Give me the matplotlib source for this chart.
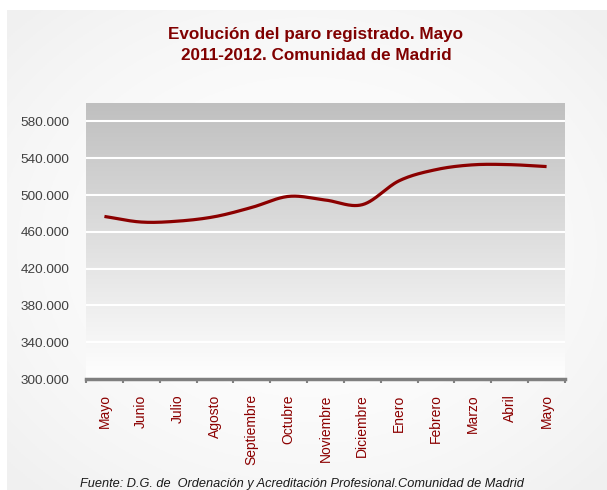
import numpy as np
import matplotlib
matplotlib.use("Agg")
import matplotlib.pyplot as plt
from matplotlib.ticker import FuncFormatter

plt.rcParams['font.family'] = ['Liberation Sans', 'DejaVu Sans']

# data
meses = ["Mayo", "Junio", "Julio", "Agosto", "Septiembre", "Octubre", "Noviembre",
         "Diciembre", "Enero", "Febrero", "Marzo", "Abril", "Mayo"]
parados = [476700, 470600, 471600, 476500, 486500, 498500, 494500,
           489500, 515500, 527600, 532800, 533000, 530900]
y_ticks = list(range(300000, 600000, 40000))

rojo = "#8b0000"


def catmull_rom(x, y, n=30):
    # smooth line through the points, like the Excel "smoothed line"
    x = np.asarray(x, float)
    y = np.asarray(y, float)
    px = np.concatenate([[2 * x[0] - x[1]], x, [2 * x[-1] - x[-2]]])
    py = np.concatenate([[2 * y[0] - y[1]], y, [2 * y[-1] - y[-2]]])
    xs, ys = [], []
    t = np.linspace(0, 1, n)
    for i in range(1, len(px) - 2):
        for p, out in ((px, xs), (py, ys)):
            p0, p1, p2, p3 = p[i - 1], p[i], p[i + 1], p[i + 2]
            out.append(0.5 * (2 * p1 + (-p0 + p2) * t
                              + (2 * p0 - 5 * p1 + 4 * p2 - p3) * t ** 2
                              + (-p0 + 3 * p1 - 3 * p2 + p3) * t ** 3))
    return np.concatenate(xs), np.concatenate(ys)


fig = plt.figure(figsize=(6.07, 4.90), dpi=100)
fig.patch.set_facecolor("white")

# background panel with soft radial gradient
bg = fig.add_axes([7 / 607, 0, 600 / 607, 480 / 490])
bg.set_axis_off()
gx, gy = np.meshgrid(np.linspace(-1, 1, 300), np.linspace(-1, 1, 240))
r = np.clip(np.sqrt(gx ** 2 + gy ** 2) * 0.75, 0, 1)
shade = 0.995 - 0.05 * r ** 2
bg.imshow(np.dstack([shade] * 3), aspect="auto", extent=[0, 1, 0, 1])
bg.set_xlim(0, 1)
bg.set_ylim(0, 1)

ax = fig.add_axes([86 / 607, 111 / 490, 479 / 607, 276 / 490])
x = np.arange(len(meses))
ax.set_xlim(-0.5, len(meses) - 0.5)
ax.set_ylim(300000, 600000)

# plot area gradient: grey at top to white at bottom
grad = np.linspace(1.0, 0.75, 256).reshape(-1, 1)
ax.imshow(np.dstack([grad] * 3), aspect="auto", origin="lower",
          extent=[-0.5, len(meses) - 0.5, 300000, 600000], zorder=0)

for v in y_ticks[1:]:
    ax.axhline(v, color="white", lw=1.5, zorder=1)

sx, sy = catmull_rom(x, parados)
ax.plot(sx, sy, color=rojo, lw=2.3, solid_capstyle="butt", zorder=3)

for s in ["top", "right", "left"]:
    ax.spines[s].set_visible(False)
ax.spines["bottom"].set_color("#808080")
ax.spines["bottom"].set_linewidth(2.5)

ax.set_yticks(y_ticks)
ax.yaxis.set_major_formatter(FuncFormatter(lambda v, p: f"{int(v):,}".replace(",", ".")))
ax.tick_params(axis="y", length=0, pad=12, labelsize=9.7, labelcolor="#404040")

ax.set_xticks(x)
ax.set_xticklabels(meses, rotation=90, color=rojo, fontsize=10)
ax.set_xticks(np.arange(len(meses) + 1) - 0.5, minor=True)
ax.tick_params(axis="x", which="major", length=0, pad=11)
ax.tick_params(axis="x", which="minor", length=3, width=1.5, color="#808080")

fig.text(316 / 607, 1 - 45 / 490, "Evolución del paro registrado. Mayo\n2011-2012. Comunidad de Madrid",
         ha="center", va="center", fontsize=12.3, fontweight="bold", color="#800000",
         linespacing=1.45)

fig.text(302 / 607, 1 - 484 / 490,
         "Fuente: D.G. de  Ordenación y Acreditación Profesional.Comunidad de Madrid",
         ha="center", va="center", fontsize=9.2, style="italic", color="#1a1a1a")

fig.savefig("out.png", dpi=100, facecolor=fig.get_facecolor())
